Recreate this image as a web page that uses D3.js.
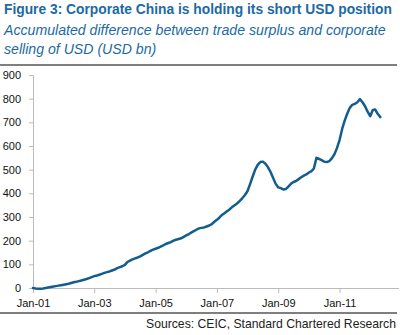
<!DOCTYPE html>
<html><head><meta charset="utf-8">
<script src="https://cdn.jsdelivr.net/npm/d3@7"></script>
<style>body{margin:0;background:#fff}svg{display:block}</style>
</head><body><svg id="c" width="400" height="335"></svg>
<script>
const title = "Figure 3: Corporate China is holding its short USD position";
const subtitle1 = "Accumulated difference between trade surplus and corporate";
const subtitle2 = "selling of USD (USD bn)";
const source = "Sources: CEIC, Standard Chartered Research";
const startYear = 2001, startMonth = 0;
const values = [
  0,-2,-3,-3,-2,0,2,4,6,8,10,12,
  14,16,18,21,24,26,29,32,35,38,42,46,
  50,53,56,60,64,67,70,74,78,84,88,92,
  98,110,116,121,125,129,134,140,146,151,157,162,
  166,170,175,180,186,190,194,200,204,207,210,216,
  222,228,234,240,246,252,254,256,260,264,270,280,
  288,298,308,316,324,332,342,350,358,368,380,393,
  410,440,470,500,520,532,534,525,510,490,465,440,
  425,422,416,418,428,440,448,452,460,468,475,480,
  488,494,505,550,546,540,534,532,536,548,565,591,
  625,672,705,735,760,774,778,785,798,785,768,745,
  726,752,754,735,722
];
const yTicks = [0,100,200,300,400,500,600,700,800,900];
const xTickYears = [2001,2003,2005,2007,2009,2011];

const data = values.map((v,i)=>({date:new Date(startYear, startMonth+i, 1), v}));
const svg = d3.select("#c");
const font = "'Liberation Sans', Arial, sans-serif";
const blue = "#1c6aa3";

function fitText(sel, width, size){
  sel.attr("font-size", size);
  const w = sel.node().getComputedTextLength();
  sel.attr("font-size", size*width/w);
}
const t = svg.append("text").attr("x",4).attr("y",14).attr("font-family",font)
  .attr("font-weight","bold").attr("fill",blue).text(title);
fitText(t, 388, 13);
const s1 = svg.append("text").attr("x",4).attr("y",35).attr("font-family",font)
  .attr("font-style","italic").attr("fill",blue).text(subtitle1);
fitText(s1, 382, 13);
svg.append("text").attr("x",4).attr("y",54).attr("font-family",font)
  .attr("font-style","italic").attr("fill",blue).attr("font-size", s1.attr("font-size")).text(subtitle2);

svg.append("line").attr("x1",0).attr("x2",397).attr("y1",65).attr("y2",65)
  .attr("stroke","#555").attr("stroke-width",1.5);
svg.append("line").attr("x1",0).attr("x2",397).attr("y1",313).attr("y2",313)
  .attr("stroke","#555").attr("stroke-width",1.5);
svg.append("text").attr("x",396).attr("y",328).attr("text-anchor","end")
  .attr("font-family",font).attr("font-size",12.2).attr("fill","#222").text(source);

const x = d3.scaleTime().domain([new Date(2001,0,1), new Date(2013,0,1)]).range([33, 33+144*2.555]);
const y = d3.scaleLinear().domain([0,900]).range([288,75]);

const yAxis = svg.append("g").attr("transform","translate(33,0)")
  .call(d3.axisLeft(y).tickValues(yTicks).tickSize(4).tickPadding(8));
yAxis.select(".domain").attr("stroke","#bbb");
yAxis.selectAll(".tick line").attr("stroke","#bbb");
yAxis.selectAll("text").attr("font-family",font).attr("font-size",11).attr("fill","#111");

const xAxis = svg.append("g").attr("transform","translate(0,288)")
  .call(d3.axisBottom(x).tickValues(xTickYears.map(yr=>new Date(yr,0,1)))
    .tickFormat(d3.timeFormat("Jan-%y")).tickSize(5).tickSizeOuter(0).tickPadding(6));
xAxis.select(".domain").attr("stroke","#bbb").attr("d", "M33,0.5H399");
xAxis.selectAll(".tick line").attr("stroke","#bbb");
xAxis.selectAll("text").attr("font-family",font).attr("font-size",11).attr("fill","#111");

svg.append("path").datum(data).attr("fill","none").attr("stroke","#135d8c")
  .attr("stroke-width",2.5).attr("stroke-linejoin","round").attr("stroke-linecap","round")
  .attr("d", d3.line().x(d=>x(d.date)).y(d=>y(d.v)));
</script></body></html>
